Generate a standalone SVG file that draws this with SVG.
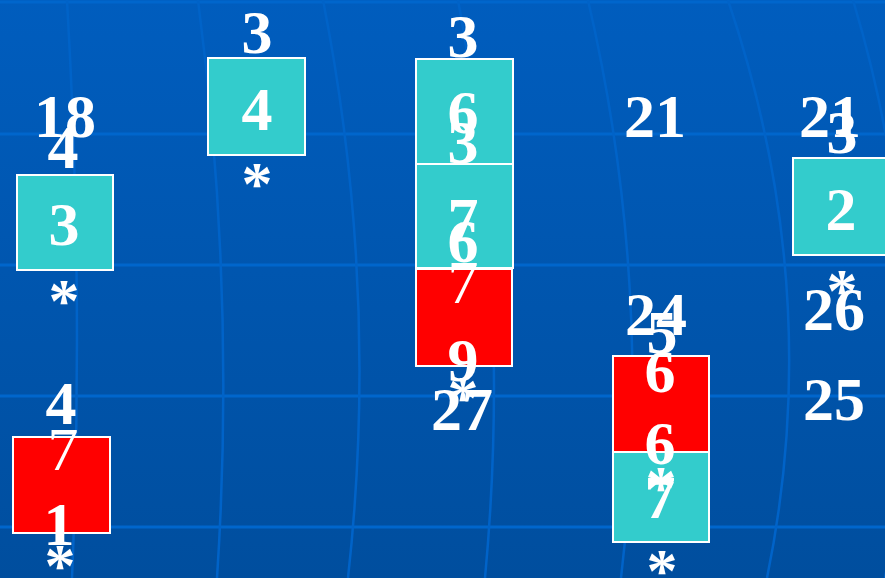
<svg xmlns="http://www.w3.org/2000/svg" width="885" height="578" viewBox="0 0 885 578">
<defs>
<linearGradient id="bg" x1="0" y1="0" x2="0" y2="1">
<stop offset="0" stop-color="#005DBE"/>
<stop offset="1" stop-color="#004E9E"/>
</linearGradient>
<style>
.grid{fill:none;stroke:#0066CC;stroke-width:3}
.vgrid{fill:none;stroke:#0063C8;stroke-width:2.5}
.teal{fill:#33CCCC;stroke:#FFFFFF;stroke-width:2}
.red{fill:#FF0000;stroke:#FFFFFF;stroke-width:2}
text{font-family:"Liberation Serif","Times New Roman",serif;font-weight:bold;font-size:62px;fill:#FFFFFF;text-anchor:middle}
.thin{font-weight:normal}
</style>
</defs>
<rect x="0" y="0" width="885" height="578" fill="url(#bg)"/>
<g id="grid">
<line class="grid" x1="0" y1="2" x2="885" y2="2" stroke-width="4"/>
<line class="grid" x1="0" y1="134" x2="885" y2="134"/>
<line class="grid" x1="0" y1="265" x2="885" y2="265"/>
<line class="grid" x1="0" y1="396" x2="885" y2="396"/>
<line class="grid" x1="0" y1="527" x2="885" y2="527"/>
<path class="vgrid" d="M67,0 Q84,290 72,578"/>
<path class="vgrid" d="M198,0 Q236,290 217,578"/>
<path class="vgrid" d="M323,0 Q380,290 348,578"/>
<path class="vgrid" d="M458,0 Q512,290 485,578"/>
<path class="vgrid" d="M588,0 Q655,290 621,578"/>
<path class="vgrid" d="M728,0 Q826,290 767,578"/>
<path class="vgrid" d="M853,0 Q940,290 885,578"/>
</g>
<g id="connectors"/>
<g id="node-col1">
<text x="65" y="137">18</text>
<text x="63" y="168">4</text>
<rect class="teal" x="17" y="175" width="96" height="95"/>
<text x="64" y="245">3</text>
<text x="64" y="321">*</text>
</g>
<g id="node-col2">
<text x="257" y="53">3</text>
<rect class="teal" x="208" y="58" width="97" height="97"/>
<text x="257" y="130">4</text>
<text x="257" y="204">*</text>
</g>
<g id="node-col3">
<text x="463" y="57">3</text>
<rect class="teal" x="416" y="59" width="97" height="105"/>
<rect class="teal" x="416" y="164" width="97" height="104"/>
<rect class="red" x="416" y="269" width="96" height="97"/>
<text x="463" y="133">6</text>
<text x="463" y="163">3</text>
<text x="463" y="240">7</text>
<text x="463" y="262">6</text>
<text class="thin" x="463" y="303">7</text>
<text x="463" y="381">9</text>
<text x="463" y="418">*</text>
<text x="462" y="430">27</text>
</g>
<g id="node-col4">
<text x="655" y="137">21</text>
<text x="656" y="335">24</text>
<text x="662" y="353">5</text>
<rect class="red" x="613" y="356" width="96" height="96"/>
<rect class="teal" x="613" y="452" width="96" height="90"/>
<text x="660" y="392">6</text>
<text x="660" y="464">6</text>
<text x="661" y="508">*</text>
<text x="660" y="518">7</text>
<text x="662" y="591">*</text>
</g>
<g id="node-col5">
<text x="830" y="137">21</text>
<text x="842" y="153">3</text>
<rect class="teal" x="793" y="158" width="97" height="97"/>
<text x="841" y="230">2</text>
<text x="842" y="311">*</text>
<text x="834" y="330">26</text>
<text x="834" y="420">25</text>
</g>
<g id="node-bottom-left">
<text x="61" y="424">4</text>
<rect class="red" x="13" y="437" width="97" height="96"/>
<text class="thin" x="63" y="470">7</text>
<text x="59" y="545">1</text>
<text x="60" y="586">*</text>
</g>
</svg>
